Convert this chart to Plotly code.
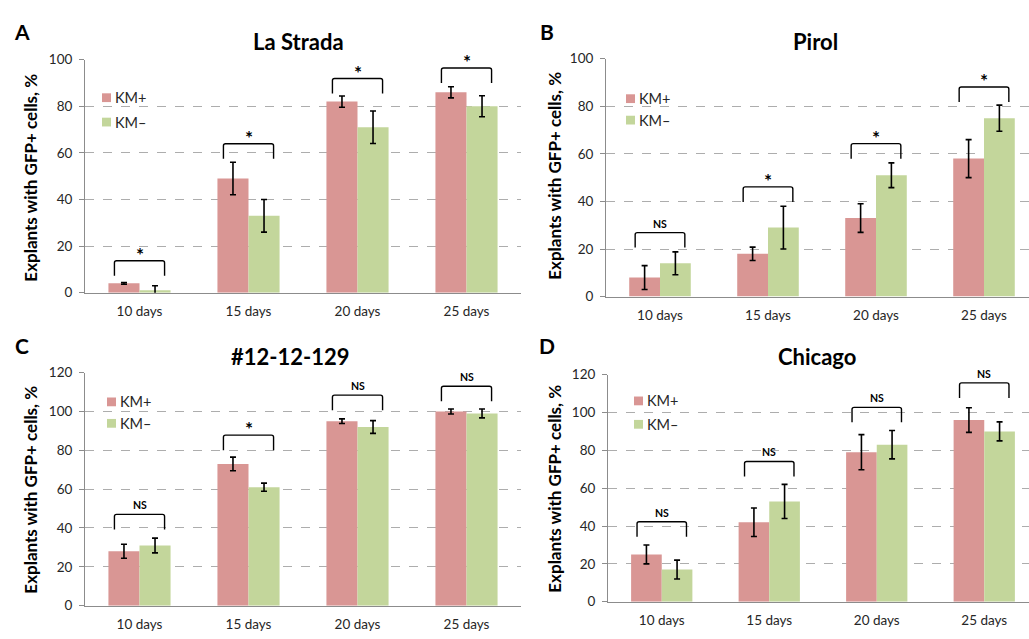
import plotly.graph_objects as go

days = ["10 days", "15 days", "20 days", "25 days"]
series_names = ["KM+", "KM\u2013"]

# Panel A – La Strada
a_km_plus = [4, 49, 82, 86]
a_km_plus_err = [0.4, 7, 2.4, 2.4]
a_km_minus = [1, 33, 71, 80]
a_km_minus_err = [2, 7, 7, 4.5]
a_sig = ["*", "*", "*", "*"]
a_bracket = [13.7, 63.9, 91.9, 96.4]

# Panel B – Pirol
b_km_plus = [8, 18, 33, 58]
b_km_plus_err = [5, 2.8, 6, 8]
b_km_minus = [14, 29, 51, 75]
b_km_minus_err = [4.8, 9, 5.2, 5.5]
b_sig = ["NS", "*", "*", "*"]
b_bracket = [26.9, 46.1, 64.3, 88.1]

# Panel C – #12-12-129
c_km_plus = [28, 73, 95, 100]
c_km_plus_err = [3.6, 3.5, 1.2, 1.3]
c_km_minus = [31, 61, 92, 99]
c_km_minus_err = [3.8, 2.1, 3.3, 2.3]
c_sig = ["NS", "*", "NS", "NS"]
c_bracket = [47.0, 87.8, 108.4, 113.0]

# Panel D – Chicago
d_km_plus = [25, 42, 79, 96]
d_km_plus_err = [5, 7.5, 9.3, 6.5]
d_km_minus = [17, 53, 83, 90]
d_km_minus_err = [5, 9, 7.5, 5]
d_sig = ["NS", "NS", "NS", "NS"]
d_bracket = [42.3, 74.1, 102.7, 115.6]

titles = ["La Strada", "Pirol", "#12-12-129", "Chicago"]
letters = ["A", "B", "C", "D"]
y_max = [100, 100, 120, 120]
y_dtick = [20, 20, 20, 20]

W, H = 1029, 639
FONT = "Lato, 'Open Sans', sans-serif"
PINK = "#D99694"
GREEN = "#C3D69B"
TXT = "#262626"

panels = [
    dict(l=85, r=521, t=53, b=292, xr=3.5),
    dict(l=606, r=1029, t=52, b=296, xr=-0.5 + (1029 - 606) / 108.0),
    dict(l=85, r=521, t=374, b=613, xr=3.5),
    dict(l=608, r=1029, t=376, b=609, xr=-0.5 + (1029 - 608) / 107.5),
]

data = [
    (a_km_plus, a_km_plus_err, a_km_minus, a_km_minus_err, a_sig, a_bracket),
    (b_km_plus, b_km_plus_err, b_km_minus, b_km_minus_err, b_sig, b_bracket),
    (c_km_plus, c_km_plus_err, c_km_minus, c_km_minus_err, c_sig, c_bracket),
    (d_km_plus, d_km_plus_err, d_km_minus, d_km_minus_err, d_sig, d_bracket),
]

xpos = list(range(len(days)))

fig = go.Figure()
layout = dict(
    width=W, height=H,
    margin=dict(l=0, r=0, t=0, b=0),
    paper_bgcolor="white", plot_bgcolor="white",
    barmode="group", bargap=0.43, bargroupgap=0,
    showlegend=False,
    font=dict(family=FONT, color=TXT),
)
shapes = []
annotations = []

legend_pos = [(102, 92, 117), (626, 93, 115), (107, 404, 426), (634, 403, 427)]
ytitle_pos = [(31, 174), (555, 172), (31, 494), (555, 493)]
title_pos = [(298, 34), (815, 34), (290, 357), (817, 357)]
letter_pos = [(22, 24), (547, 24), (22, 346), (547, 346)]


def px(xp):
    return xp / W


def py(yp):
    return 1 - yp / H


for i, (p, d) in enumerate(zip(panels, data)):
    kp, kpe, km, kme, sig, br = d
    sfx = "" if i == 0 else str(i + 1)
    xa, ya = "x" + sfx, "y" + sfx
    for name, vals, errs, col in [(series_names[0], kp, kpe, PINK), (series_names[1], km, kme, GREEN)]:
        fig.add_trace(go.Bar(
            x=xpos, y=vals, name=name, xaxis=xa, yaxis=ya,
            marker=dict(color=col, line=dict(width=0)),
            error_y=dict(type="data", array=errs, visible=True, color="#000000", thickness=1.6, width=3),
        ))
    layout["xaxis" + sfx] = dict(
        domain=[px(p["l"]), px(p["r"])], anchor=ya, range=[-0.5, p["xr"]],
        tickmode="array", tickvals=xpos, ticktext=days,
        showgrid=False, zeroline=False, showline=True, linecolor="#8C8C8C", linewidth=1,
        ticks="", tickfont=dict(size=13.5, color=TXT, family=FONT), ticklabelstandoff=6,
        fixedrange=True,
    )
    layout["yaxis" + sfx] = dict(
        domain=[py(p["b"]), py(p["t"])], anchor=xa, range=[0, y_max[i]], dtick=y_dtick[i],
        showgrid=True, gridcolor="#ADADAD", griddash="dash", gridwidth=1,
        zeroline=False, showline=True, linecolor="#8C8C8C", linewidth=1,
        ticks="outside", ticklen=5, tickcolor="#8C8C8C",
        tickfont=dict(size=13.5, color=TXT, family=FONT), ticklabelstandoff=4,
        fixedrange=True,
    )
    for j, (lab, top) in enumerate(zip(sig, br)):
        x0, x1 = xpos[j] - 0.23, xpos[j] + 0.23
        shapes.append(dict(
            type="path", xref=xa, yref=ya, ysizemode="pixel", yanchor=top,
            path=f"M{x0},-15 L{x0},-2 Q{x0},0 {x0 + 0.02},0 L{x1 - 0.02},0 Q{x1},0 {x1},-2 L{x1},-15",
            line=dict(color="#000000", width=1.4),
        ))
        if lab == "*":
            annotations.append(dict(
                x=xpos[j], y=top, xref=xa, yref=ya, text="<b>*</b>", showarrow=False,
                yanchor="bottom", yshift=-7, font=dict(size=19, color="#000000", family=FONT),
            ))
        else:
            annotations.append(dict(
                x=xpos[j], y=top, xref=xa, yref=ya, text="<b>NS</b>", showarrow=False,
                yanchor="bottom", yshift=1, font=dict(size=10.5, color="#000000", family=FONT),
            ))
    lx, ly1, ly2 = legend_pos[i]
    for name, col, ly in [(series_names[0], PINK, ly1), (series_names[1], GREEN, ly2)]:
        shapes.append(dict(
            type="rect", xref="paper", yref="paper",
            x0=px(lx), x1=px(lx + 9), y0=py(ly + 4.5), y1=py(ly - 4.5),
            fillcolor=col, line=dict(width=0),
        ))
        annotations.append(dict(
            x=px(lx + 11), y=py(ly), xref="paper", yref="paper", text=name, showarrow=False,
            xanchor="left", yanchor="middle", font=dict(size=14.5, color=TXT, family=FONT),
        ))
    tx, ty = ytitle_pos[i]
    annotations.append(dict(
        x=px(tx), y=py(ty), xref="paper", yref="paper", text="<b>Explants with GFP+ cells, %</b>",
        showarrow=False, textangle=-90, xanchor="center", yanchor="middle",
        font=dict(size=17, color="#000000", family=FONT),
    ))
    tx, ty = title_pos[i]
    annotations.append(dict(
        x=px(tx), y=py(ty), xref="paper", yref="paper", text=f"<b>{titles[i]}</b>",
        showarrow=False, xanchor="center", yanchor="middle",
        font=dict(size=22, color="#000000", family=FONT),
    ))
    tx, ty = letter_pos[i]
    annotations.append(dict(
        x=px(tx), y=py(ty), xref="paper", yref="paper", text=f"<b>{letters[i]}</b>",
        showarrow=False, xanchor="center", yanchor="middle",
        font=dict(size=21, color="#000000", family=FONT),
    ))

layout["shapes"] = shapes
layout["annotations"] = annotations
fig.update_layout(**layout)
fig.write_html(
    "out.html",
    config={"displayModeBar": False, "responsive": False, "staticPlot": True},
    post_script=(
        "var d=document.getElementById('{plot_id}');"
        "d.style.position='fixed';d.style.top='0px';d.style.left='0px';"
        "document.body.style.margin='0';document.body.style.padding='0';document.body.style.overflow='hidden';"
    ),
)
